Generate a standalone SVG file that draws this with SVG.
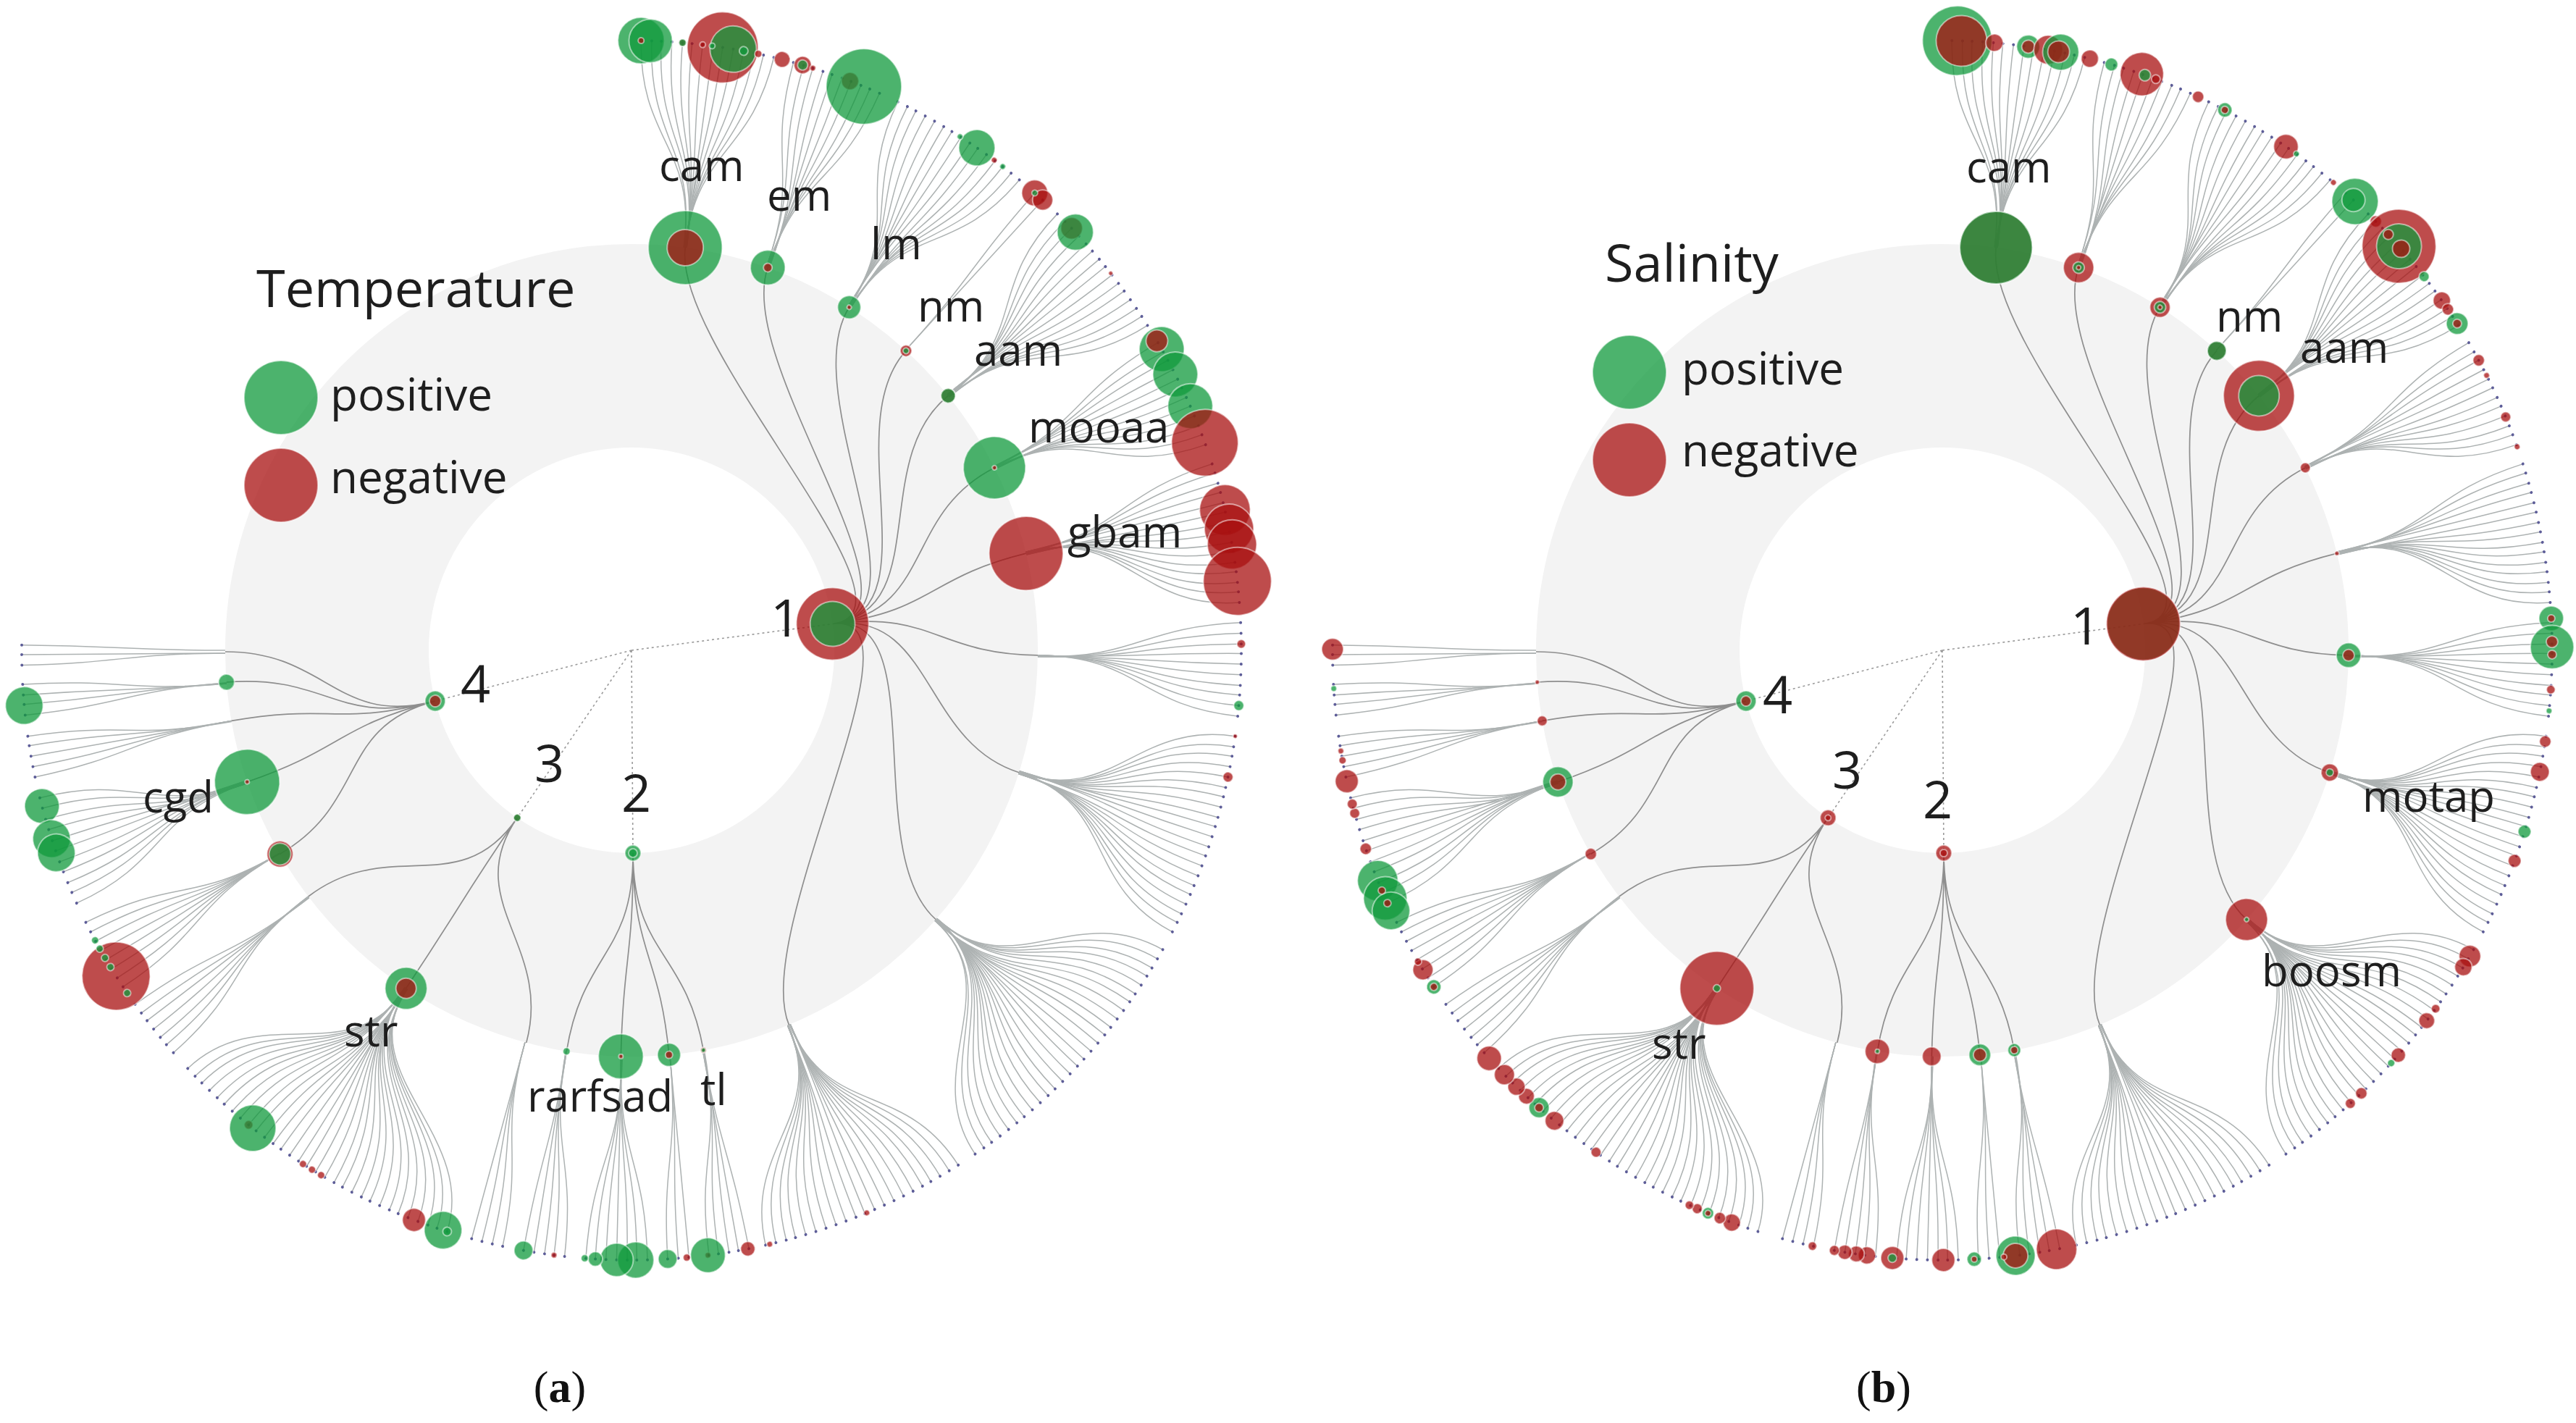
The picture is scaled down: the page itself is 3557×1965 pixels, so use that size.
<svg xmlns="http://www.w3.org/2000/svg" width="3557" height="1965" viewBox="0 0 3557 1965">
<style>
.l{fill:none;stroke:#adb2b2;stroke-width:1.5}
.d{fill:#5d5d98}
.b{fill:none;stroke:#8e8e8e;stroke-width:1.7}
.z{fill:none;stroke:#9a9a9a;stroke-width:1.6;stroke-dasharray:3 4}
.g{fill:#109a3c;fill-opacity:.75;stroke:#fff;stroke-opacity:.5;stroke-width:2}
.r{fill:#a81010;fill-opacity:.75;stroke:#fff;stroke-opacity:.5;stroke-width:2}
.ring{fill:none;stroke:#f3f3f3;stroke-width:281}
.t{font-family:'Open Sans','Noto Sans','DejaVu Sans',sans-serif;fill:#1e1e1e}
.s60{font-size:60px}
.s72{font-size:72px}
.s62{font-size:62px}
.cap{font-family:'Liberation Serif','Times New Roman',serif;font-size:62px;fill:#111}
</style>
<defs>
<g id="k0"><path class="l" d="M561,0C701.5,0 701.5,0 842,0"/><circle class="d" cx="842" r="2"/></g>
<g id="k1"><path class="l" d="M561,4.9C701.5,6.1 701.5,0 842,0"/><circle class="d" cx="842" r="2"/></g>
<g id="k2"><path class="l" d="M560.9,9.8C701.4,12.2 701.5,0 842,0"/><circle class="d" cx="842" r="2"/></g>
<g id="k3"><path class="l" d="M560.8,14.7C701.3,18.4 701.5,0 842,0"/><circle class="d" cx="842" r="2"/></g>
<g id="k4"><path class="l" d="M560.7,19.6C701.1,24.5 701.5,0 842,0"/><circle class="d" cx="842" r="2"/></g>
<g id="k5"><path class="l" d="M560.5,24.5C700.8,30.6 701.5,0 842,0"/><circle class="d" cx="842" r="2"/></g>
<g id="k6"><path class="l" d="M560.2,29.4C700.5,36.7 701.5,0 842,0"/><circle class="d" cx="842" r="2"/></g>
<g id="k7"><path class="l" d="M560,34.2C700.2,42.8 701.5,0 842,0"/><circle class="d" cx="842" r="2"/></g>
<g id="k8"><path class="l" d="M559.6,39.1C699.8,48.9 701.5,0 842,0"/><circle class="d" cx="842" r="2"/></g>
<g id="k9"><path class="l" d="M559.3,44C699.3,55 701.5,0 842,0"/><circle class="d" cx="842" r="2"/></g>
<g id="k10"><path class="l" d="M558.9,48.9C698.8,61.1 701.5,0 842,0"/><circle class="d" cx="842" r="2"/></g>
<g id="k11"><path class="l" d="M558.4,53.8C698.3,67.2 701.5,0 842,0"/><circle class="d" cx="842" r="2"/></g>
<g id="k12"><path class="l" d="M557.9,58.6C697.7,73.3 701.5,0 842,0"/><circle class="d" cx="842" r="2"/></g>
<g id="k13"><path class="l" d="M557.4,63.5C697,79.4 701.5,0 842,0"/><circle class="d" cx="842" r="2"/></g>
<g id="k14"><path class="l" d="M556.8,68.4C696.3,85.5 701.5,0 842,0"/><circle class="d" cx="842" r="2"/></g>
<g id="k15"><path class="l" d="M556.2,73.2C695.5,91.6 701.5,0 842,0"/><circle class="d" cx="842" r="2"/></g>
<g id="k16"><path class="l" d="M555.5,78.1C694.7,97.6 701.5,0 842,0"/><circle class="d" cx="842" r="2"/></g>
<g id="k17"><path class="l" d="M554.8,82.9C693.8,103.7 701.5,0 842,0"/><circle class="d" cx="842" r="2"/></g>
<g id="k18"><path class="l" d="M554.1,87.8C692.9,109.7 701.5,0 842,0"/><circle class="d" cx="842" r="2"/></g>
<g id="k19"><path class="l" d="M553.3,92.6C691.9,115.8 701.5,0 842,0"/><circle class="d" cx="842" r="2"/></g>
<g id="k20"><path class="l" d="M552.5,97.4C690.8,121.8 701.5,0 842,0"/><circle class="d" cx="842" r="2"/></g>
<g id="k21"><path class="l" d="M551.6,102.2C689.8,127.8 701.5,0 842,0"/><circle class="d" cx="842" r="2"/></g>
<g id="k22"><path class="l" d="M550.7,107C688.6,133.9 701.5,0 842,0"/><circle class="d" cx="842" r="2"/></g>
<g id="k23"><path class="l" d="M549.7,111.8C687.4,139.9 701.5,0 842,0"/><circle class="d" cx="842" r="2"/></g>
<g id="k24"><path class="l" d="M548.7,116.6C686.2,145.9 701.5,0 842,0"/><circle class="d" cx="842" r="2"/></g>
<g id="k25"><path class="l" d="M547.7,121.4C684.9,151.8 701.5,0 842,0"/><circle class="d" cx="842" r="2"/></g>
<g id="k26"><path class="l" d="M546.6,126.2C683.5,157.8 701.5,0 842,0"/><circle class="d" cx="842" r="2"/></g>
<g id="k27"><path class="l" d="M545.5,131C682.1,163.8 701.5,0 842,0"/><circle class="d" cx="842" r="2"/></g>
<g id="k28"><path class="l" d="M544.3,135.7C680.7,169.7 701.5,0 842,0"/><circle class="d" cx="842" r="2"/></g>
<g id="k29"><path class="l" d="M543.1,140.5C679.2,175.6 701.5,0 842,0"/><circle class="d" cx="842" r="2"/></g>
<g id="k30"><path class="l" d="M541.9,145.2C677.6,181.6 701.5,0 842,0"/><circle class="d" cx="842" r="2"/></g>
<g id="k31"><path class="l" d="M540.6,149.9C676,187.5 701.5,0 842,0"/><circle class="d" cx="842" r="2"/></g>
<g id="k32"><path class="l" d="M539.3,154.6C674.3,193.4 701.5,0 842,0"/><circle class="d" cx="842" r="2"/></g>
<use id="m1" href="#k1" transform="scale(1,-1)"/>
<use id="m2" href="#k2" transform="scale(1,-1)"/>
<use id="m3" href="#k3" transform="scale(1,-1)"/>
<use id="m4" href="#k4" transform="scale(1,-1)"/>
<use id="m5" href="#k5" transform="scale(1,-1)"/>
<use id="m6" href="#k6" transform="scale(1,-1)"/>
<use id="m7" href="#k7" transform="scale(1,-1)"/>
<use id="m8" href="#k8" transform="scale(1,-1)"/>
<use id="m9" href="#k9" transform="scale(1,-1)"/>
<use id="m10" href="#k10" transform="scale(1,-1)"/>
<use id="m11" href="#k11" transform="scale(1,-1)"/>
<use id="m12" href="#k12" transform="scale(1,-1)"/>
<use id="m13" href="#k13" transform="scale(1,-1)"/>
<use id="m14" href="#k14" transform="scale(1,-1)"/>
<use id="m15" href="#k15" transform="scale(1,-1)"/>
<use id="m16" href="#k16" transform="scale(1,-1)"/>
<use id="m17" href="#k17" transform="scale(1,-1)"/>
<use id="m18" href="#k18" transform="scale(1,-1)"/>
<use id="m19" href="#k19" transform="scale(1,-1)"/>
<use id="m20" href="#k20" transform="scale(1,-1)"/>
<use id="m21" href="#k21" transform="scale(1,-1)"/>
<use id="m22" href="#k22" transform="scale(1,-1)"/>
<use id="m23" href="#k23" transform="scale(1,-1)"/>
<use id="m24" href="#k24" transform="scale(1,-1)"/>
<use id="m25" href="#k25" transform="scale(1,-1)"/>
<use id="m26" href="#k26" transform="scale(1,-1)"/>
<use id="m28" href="#k28" transform="scale(1,-1)"/>
<g id="tree">
<path class="z" d="M0,0L277.6,-36.5M0,0L2,280M0,0L-157.8,231.3M0,0L-271.1,70.1"/>
<path class="b" d="M277.6,-36.5C416.9,-54.9 55.6,-416.8 74.2,-556.1M277.6,-36.5C416.9,-54.9 141.1,-396.1 188.2,-528.5M277.6,-36.5C416.9,-54.9 225.3,-355 300.6,-473.7M277.6,-36.5C416.9,-54.9 284.1,-310 379,-413.6M277.6,-36.5C416.9,-54.9 327.7,-263.5 437.3,-351.5M277.6,-36.5C416.9,-54.9 375.7,-188.9 501.2,-252.1M277.6,-36.5C416.9,-54.9 408.4,-100.3 544.8,-133.8M277.6,-36.5C416.9,-54.9 420.5,5.1 561,6.9M277.6,-36.5C416.9,-54.9 401,126.4 535,168.7M277.6,-36.5C416.9,-54.9 314.9,278.6 420.2,371.7M277.6,-36.5C416.9,-54.9 163,387.6 217.4,517.2"/>
<path class="b" d="M2,280C2.9,420.5 74.5,413.9 99.3,552.1M2,280C2.9,420.5 38.8,418.7 51.8,558.6M2,280C2.9,420.5 -11,420.4 -14.7,560.8M2,280C2.9,420.5 -67.2,415.1 -89.7,553.8"/>
<path class="b" d="M-157.8,231.3C-237,347.4 -108.8,406.2 -145.2,541.9M-157.8,231.3C-237,347.4 -233.3,349.8 -311.3,466.7M-157.8,231.3C-237,347.4 -334.5,254.8 -446.3,340"/>
<path class="b" d="M-271.1,70.1C-407.1,105.3 -363.8,210.9 -485.4,281.3M-271.1,70.1C-407.1,105.3 -397.8,136.2 -530.8,181.7M-271.1,70.1C-407.1,105.3 -414.1,73 -552.5,97.4M-271.1,70.1C-407.1,105.3 -419.2,33 -559.3,44M-271.1,70.1C-407.1,105.3 -420.5,1.5 -561,2"/>
<use href="#k13" transform="rotate(-89.1)"/><use href="#k11" transform="rotate(-88.1)"/><use href="#k10" transform="rotate(-87.2)"/><use href="#k8" transform="rotate(-86.2)"/><use href="#k6" transform="rotate(-85.2)"/><use href="#k4" transform="rotate(-84.3)"/><use href="#k2" transform="rotate(-83.3)"/><use href="#k0" transform="rotate(-82.3)"/><use href="#m2" transform="rotate(-81.4)"/><use href="#m4" transform="rotate(-80.4)"/><use href="#m6" transform="rotate(-79.4)"/><use href="#m8" transform="rotate(-78.4)"/><use href="#m10" transform="rotate(-77.5)"/><use href="#m12" transform="rotate(-76.5)"/>
<use href="#k8" transform="rotate(-74.6)"/><use href="#k6" transform="rotate(-73.6)"/><use href="#k5" transform="rotate(-72.7)"/><use href="#k3" transform="rotate(-71.7)"/><use href="#k1" transform="rotate(-70.8)"/><use href="#m1" transform="rotate(-69.8)"/><use href="#m3" transform="rotate(-68.9)"/><use href="#m5" transform="rotate(-67.9)"/><use href="#m7" transform="rotate(-67)"/><use href="#m9" transform="rotate(-66)"/>
<use href="#k13" transform="rotate(-64.1)"/><use href="#k11" transform="rotate(-63.1)"/><use href="#k9" transform="rotate(-62.2)"/><use href="#k7" transform="rotate(-61.2)"/><use href="#k5" transform="rotate(-60.2)"/><use href="#k3" transform="rotate(-59.2)"/><use href="#k1" transform="rotate(-58.3)"/><use href="#m1" transform="rotate(-57.3)"/><use href="#m3" transform="rotate(-56.3)"/><use href="#m4" transform="rotate(-55.4)"/><use href="#m6" transform="rotate(-54.4)"/><use href="#m8" transform="rotate(-53.4)"/><use href="#m10" transform="rotate(-52.5)"/><use href="#m12" transform="rotate(-51.5)"/><use href="#m14" transform="rotate(-50.5)"/>
<use href="#k2" transform="rotate(-48.6)"/><use href="#k0" transform="rotate(-47.6)"/>
<use href="#k14" transform="rotate(-45.7)"/><use href="#k12" transform="rotate(-44.7)"/><use href="#k10" transform="rotate(-43.8)"/><use href="#k8" transform="rotate(-42.8)"/><use href="#k6" transform="rotate(-41.8)"/><use href="#k4" transform="rotate(-40.9)"/><use href="#k2" transform="rotate(-39.9)"/><use href="#k0" transform="rotate(-39)"/><use href="#m2" transform="rotate(-38)"/><use href="#m4" transform="rotate(-37)"/><use href="#m5" transform="rotate(-36.1)"/><use href="#m7" transform="rotate(-35.1)"/><use href="#m9" transform="rotate(-34.1)"/><use href="#m11" transform="rotate(-33.2)"/><use href="#m13" transform="rotate(-32.2)"/>
<use href="#k7" transform="rotate(-30.3)"/><use href="#k5" transform="rotate(-29.3)"/><use href="#k3" transform="rotate(-28.4)"/><use href="#k1" transform="rotate(-27.4)"/><use href="#m1" transform="rotate(-26.4)"/><use href="#m2" transform="rotate(-25.5)"/><use href="#m4" transform="rotate(-24.5)"/><use href="#m6" transform="rotate(-23.6)"/><use href="#m8" transform="rotate(-22.6)"/><use href="#m10" transform="rotate(-21.6)"/><use href="#m12" transform="rotate(-20.7)"/><use href="#m14" transform="rotate(-19.7)"/>
<use href="#k8" transform="rotate(-17.8)"/><use href="#k6" transform="rotate(-16.9)"/><use href="#k4" transform="rotate(-15.9)"/><use href="#k2" transform="rotate(-15)"/><use href="#k0" transform="rotate(-14)"/><use href="#m1" transform="rotate(-13.1)"/><use href="#m3" transform="rotate(-12.1)"/><use href="#m5" transform="rotate(-11.2)"/><use href="#m7" transform="rotate(-10.2)"/><use href="#m9" transform="rotate(-9.3)"/><use href="#m11" transform="rotate(-8.3)"/><use href="#m13" transform="rotate(-7.4)"/><use href="#m15" transform="rotate(-6.4)"/><use href="#m17" transform="rotate(-5.5)"/><use href="#m19" transform="rotate(-4.5)"/>
<use href="#k7" transform="rotate(-2.6)"/><use href="#k5" transform="rotate(-1.6)"/><use href="#k3" transform="rotate(-0.6)"/><use href="#k1" transform="rotate(0.3)"/><use href="#m1" transform="rotate(1.3)"/><use href="#m3" transform="rotate(2.3)"/><use href="#m5" transform="rotate(3.3)"/><use href="#m7" transform="rotate(4.2)"/><use href="#m9" transform="rotate(5.2)"/><use href="#m11" transform="rotate(6.2)"/>
<use href="#k19" transform="rotate(8.1)"/><use href="#k17" transform="rotate(9.1)"/><use href="#k15" transform="rotate(10)"/><use href="#k13" transform="rotate(11)"/><use href="#k11" transform="rotate(12)"/><use href="#k9" transform="rotate(13)"/><use href="#k7" transform="rotate(13.9)"/><use href="#k5" transform="rotate(14.9)"/><use href="#k3" transform="rotate(15.9)"/><use href="#k1" transform="rotate(16.8)"/><use href="#m1" transform="rotate(17.8)"/><use href="#m3" transform="rotate(18.8)"/><use href="#m4" transform="rotate(19.7)"/><use href="#m6" transform="rotate(20.7)"/><use href="#m8" transform="rotate(21.7)"/><use href="#m10" transform="rotate(22.7)"/><use href="#m12" transform="rotate(23.6)"/><use href="#m14" transform="rotate(24.6)"/><use href="#m16" transform="rotate(25.6)"/><use href="#m18" transform="rotate(26.5)"/><use href="#m20" transform="rotate(27.5)"/>
<use href="#k24" transform="rotate(29.4)"/><use href="#k22" transform="rotate(30.4)"/><use href="#k20" transform="rotate(31.4)"/><use href="#k18" transform="rotate(32.3)"/><use href="#k16" transform="rotate(33.3)"/><use href="#k14" transform="rotate(34.3)"/><use href="#k13" transform="rotate(35.2)"/><use href="#k11" transform="rotate(36.2)"/><use href="#k9" transform="rotate(37.2)"/><use href="#k7" transform="rotate(38.2)"/><use href="#k5" transform="rotate(39.1)"/><use href="#k3" transform="rotate(40.1)"/><use href="#k1" transform="rotate(41.1)"/><use href="#m1" transform="rotate(42.1)"/><use href="#m3" transform="rotate(43)"/><use href="#m5" transform="rotate(44)"/><use href="#m7" transform="rotate(45)"/><use href="#m9" transform="rotate(46)"/><use href="#m11" transform="rotate(46.9)"/><use href="#m13" transform="rotate(47.9)"/><use href="#m15" transform="rotate(48.9)"/><use href="#m17" transform="rotate(49.9)"/><use href="#m19" transform="rotate(50.8)"/><use href="#m21" transform="rotate(51.8)"/><use href="#m23" transform="rotate(52.8)"/><use href="#m25" transform="rotate(53.8)"/><use href="#m26" transform="rotate(54.7)"/><use href="#m28" transform="rotate(55.7)"/>
<use href="#k19" transform="rotate(57.6)"/><use href="#k17" transform="rotate(58.6)"/><use href="#k15" transform="rotate(59.6)"/><use href="#k13" transform="rotate(60.6)"/><use href="#k11" transform="rotate(61.5)"/><use href="#k9" transform="rotate(62.5)"/><use href="#k7" transform="rotate(63.5)"/><use href="#k5" transform="rotate(64.5)"/><use href="#k3" transform="rotate(65.5)"/><use href="#k1" transform="rotate(66.5)"/><use href="#m1" transform="rotate(67.5)"/><use href="#m2" transform="rotate(68.4)"/><use href="#m4" transform="rotate(69.4)"/><use href="#m6" transform="rotate(70.4)"/><use href="#m8" transform="rotate(71.4)"/><use href="#m10" transform="rotate(72.4)"/><use href="#m12" transform="rotate(73.4)"/><use href="#m14" transform="rotate(74.4)"/><use href="#m16" transform="rotate(75.3)"/><use href="#m18" transform="rotate(76.3)"/><use href="#m20" transform="rotate(77.3)"/>
<use href="#k2" transform="rotate(78.9)"/><use href="#k0" transform="rotate(79.9)"/><use href="#m2" transform="rotate(80.8)"/><use href="#m4" transform="rotate(81.8)"/><use href="#m6" transform="rotate(82.7)"/>
<use href="#k0" transform="rotate(84.6)"/><use href="#m2" transform="rotate(85.6)"/><use href="#m4" transform="rotate(86.6)"/>
<use href="#k6" transform="rotate(88.5)"/><use href="#k4" transform="rotate(89.5)"/><use href="#k2" transform="rotate(90.4)"/><use href="#k0" transform="rotate(91.4)"/><use href="#m2" transform="rotate(92.4)"/><use href="#m4" transform="rotate(93.4)"/><use href="#m6" transform="rotate(94.3)"/>
<use href="#k6" transform="rotate(96.3)"/><use href="#k4" transform="rotate(97.3)"/><use href="#k2" transform="rotate(98.2)"/><use href="#k0" transform="rotate(99.2)"/><use href="#m2" transform="rotate(100.2)"/>
<use href="#k6" transform="rotate(102.2)"/><use href="#k4" transform="rotate(103.2)"/><use href="#k2" transform="rotate(104.2)"/><use href="#k0" transform="rotate(105.2)"/>
<use href="#k32" transform="rotate(107.6)"/><use href="#k30" transform="rotate(108.6)"/><use href="#k28" transform="rotate(109.5)"/><use href="#k26" transform="rotate(110.5)"/><use href="#k24" transform="rotate(111.5)"/><use href="#k22" transform="rotate(112.5)"/><use href="#k21" transform="rotate(113.4)"/><use href="#k19" transform="rotate(114.4)"/><use href="#k17" transform="rotate(115.4)"/><use href="#k15" transform="rotate(116.3)"/><use href="#k13" transform="rotate(117.3)"/><use href="#k11" transform="rotate(118.3)"/><use href="#k9" transform="rotate(119.2)"/><use href="#k7" transform="rotate(120.2)"/><use href="#k5" transform="rotate(121.2)"/><use href="#k3" transform="rotate(122.2)"/><use href="#k1" transform="rotate(123.1)"/><use href="#m1" transform="rotate(124.1)"/><use href="#m3" transform="rotate(125.1)"/><use href="#m5" transform="rotate(126)"/><use href="#m7" transform="rotate(127)"/><use href="#m9" transform="rotate(128)"/><use href="#m10" transform="rotate(128.9)"/><use href="#m12" transform="rotate(129.9)"/><use href="#m14" transform="rotate(130.9)"/><use href="#m16" transform="rotate(131.9)"/><use href="#m18" transform="rotate(132.8)"/><use href="#m20" transform="rotate(133.8)"/><use href="#m22" transform="rotate(134.8)"/><use href="#m24" transform="rotate(135.7)"/><use href="#m26" transform="rotate(136.7)"/>
<use href="#k8" transform="rotate(138.7)"/><use href="#k6" transform="rotate(139.7)"/><use href="#k4" transform="rotate(140.6)"/><use href="#k2" transform="rotate(141.6)"/><use href="#k0" transform="rotate(142.6)"/><use href="#m2" transform="rotate(143.5)"/><use href="#m4" transform="rotate(144.5)"/>
<use href="#k7" transform="rotate(146.5)"/><use href="#k5" transform="rotate(147.5)"/><use href="#k3" transform="rotate(148.5)"/><use href="#k1" transform="rotate(149.5)"/><use href="#m1" transform="rotate(150.5)"/><use href="#m3" transform="rotate(151.5)"/><use href="#m5" transform="rotate(152.5)"/><use href="#m7" transform="rotate(153.5)"/>
<use href="#k11" transform="rotate(155.5)"/><use href="#k9" transform="rotate(156.6)"/><use href="#k7" transform="rotate(157.6)"/><use href="#k5" transform="rotate(158.7)"/><use href="#k3" transform="rotate(159.7)"/><use href="#k1" transform="rotate(160.8)"/><use href="#m1" transform="rotate(161.8)"/><use href="#m4" transform="rotate(162.9)"/><use href="#m6" transform="rotate(163.9)"/><use href="#m8" transform="rotate(165)"/><use href="#m10" transform="rotate(166)"/>
<use href="#k4" transform="rotate(168)"/><use href="#k2" transform="rotate(169)"/><use href="#k0" transform="rotate(170)"/><use href="#m2" transform="rotate(171)"/><use href="#m4" transform="rotate(171.9)"/>
<use href="#k3" transform="rotate(173.9)"/><use href="#k1" transform="rotate(174.9)"/><use href="#m1" transform="rotate(175.8)"/><use href="#m3" transform="rotate(176.8)"/>
<use href="#k2" transform="rotate(178.6)"/><use href="#k0" transform="rotate(179.6)"/><use href="#m1" transform="rotate(180.5)"/>
</g>
</defs>
<rect width="3557" height="1965" fill="#fff"/>
<g id="rings">
<circle class="ring" cx="872" cy="898" r="420.5"/>
<circle class="ring" cx="2682" cy="898" r="420.5"/>
</g>
<g id="connectors">
<use href="#tree" transform="translate(872,898)"/>
<use href="#tree" transform="translate(2682,898)"/>
</g>
<g id="panel-a" transform="translate(872,898)">
<g id="a-n1"><circle class="r" cx="280" r="50" transform="rotate(-7.5)"/><circle class="g" cx="280" r="31" transform="rotate(-7.5)"/></g>
<g id="a-n2"><circle class="g" cx="280" r="11" transform="rotate(89.6)"/><circle class="g" cx="280" r="6" transform="rotate(89.6)"/></g>
<g id="a-n3"><circle class="r" cx="280" r="5" transform="rotate(124.3)"/><circle class="g" cx="280" r="5" transform="rotate(124.3)"/></g>
<g id="a-n4"><circle class="g" cx="280" r="14" transform="rotate(165.5)"/><circle class="r" cx="280" r="8" transform="rotate(165.5)"/></g>
<g id="a-cam"><circle class="g" cx="561" r="51" transform="rotate(-82.4)"/><circle class="r" cx="561" r="25" transform="rotate(-82.4)"/></g>
<g id="a-em"><circle class="g" cx="561" r="24" transform="rotate(-70.4)"/><circle class="r" cx="561" r="6" transform="rotate(-70.4)"/></g>
<g id="a-lm"><circle class="g" cx="561" r="16" transform="rotate(-57.6)"/><circle class="r" cx="561" r="3" transform="rotate(-57.6)"/></g>
<g id="a-nm"><circle class="r" cx="561" r="8" transform="rotate(-47.5)"/><circle class="g" cx="561" r="4" transform="rotate(-47.5)"/></g>
<g id="a-aam"><circle class="r" cx="561" r="10" transform="rotate(-38.8)"/><circle class="g" cx="561" r="10" transform="rotate(-38.8)"/></g>
<g id="a-mooaa"><circle class="g" cx="561" r="43" transform="rotate(-26.7)"/><circle class="r" cx="561" r="3" transform="rotate(-26.7)"/></g>
<g id="a-gbam"><circle class="r" cx="561" r="51" transform="rotate(-13.8)"/></g>
<g id="a-tl"><circle class="r" cx="561" r="4" transform="rotate(79.8)"/><circle class="g" cx="561" r="3" transform="rotate(79.8)"/></g>
<g id="a-c2"><circle class="g" cx="561" r="16" transform="rotate(84.7)"/><circle class="r" cx="561" r="5" transform="rotate(84.7)"/></g>
<g id="a-fsad"><circle class="g" cx="561" r="31" transform="rotate(91.5)"/><circle class="r" cx="561" r="3" transform="rotate(91.5)"/></g>
<g id="a-rar"><circle class="g" cx="561" r="5" transform="rotate(99.2)"/></g>
<g id="a-str"><circle class="g" cx="561" r="29" transform="rotate(123.7)"/><circle class="r" cx="561" r="14" transform="rotate(123.7)"/></g>
<g id="a-e4"><circle class="r" cx="561" r="18" transform="rotate(149.9)"/><circle class="g" cx="561" r="15" transform="rotate(149.9)"/></g>
<g id="a-cgd"><circle class="g" cx="561" r="45" transform="rotate(161.1)"/><circle class="r" cx="561" r="3" transform="rotate(161.1)"/></g>
<g id="a-b4"><circle class="g" cx="561" r="11" transform="rotate(175.5)"/></g>
<g id="a-leaves">
<circle class="g" cx="842" r="32" transform="rotate(-89.1)"/><circle class="g" cx="842" r="30" transform="rotate(-88.2)"/><circle class="r" cx="842" r="4" transform="rotate(-89.1)"/>
<circle class="r" cx="842" r="5" transform="rotate(-85.2)"/><circle class="g" cx="842" r="5" transform="rotate(-85.2)"/>
<circle class="r" cx="842" r="49" transform="rotate(-81.4)"/><circle class="g" cx="842" r="32" transform="rotate(-80.4)"/><circle class="g" cx="842" r="6" transform="rotate(-79.4)"/><circle class="r" cx="842" r="4" transform="rotate(-83.3)"/><circle class="g" cx="842" r="4" transform="rotate(-82.4)"/><circle class="r" cx="842" r="5" transform="rotate(-78)"/>
<circle class="r" cx="842" r="11" transform="rotate(-75.7)"/><circle class="r" cx="842" r="12" transform="rotate(-73.7)"/><circle class="g" cx="842" r="7" transform="rotate(-73.7)"/><circle class="r" cx="842" r="4" transform="rotate(-72.7)"/>
<circle class="r" cx="842" r="12" transform="rotate(-69)"/><circle class="g" cx="842" r="52" transform="rotate(-67.6)"/>
<circle class="g" cx="842" r="25" transform="rotate(-55.5)"/><circle class="r" cx="842" r="4" transform="rotate(-53.5)"/><circle class="g" cx="842" r="4" transform="rotate(-52.5)"/><circle class="g" cx="842" r="4" transform="rotate(-57.4)"/>
<circle class="r" cx="842" r="18" transform="rotate(-48.6)"/><circle class="r" cx="842" r="14" transform="rotate(-47.6)"/><circle class="g" cx="842" r="4" transform="rotate(-48.6)"/>
<circle class="r" cx="842" r="15" transform="rotate(-43.8)"/><circle class="g" cx="842" r="25" transform="rotate(-43.3)"/><circle class="r" cx="842" r="3" transform="rotate(-38.2)"/>
<circle class="g" cx="842" r="31" transform="rotate(-29.6)"/><circle class="r" cx="842" r="15" transform="rotate(-30.5)"/><circle class="g" cx="842" r="31" transform="rotate(-26.9)"/><circle class="g" cx="842" r="31" transform="rotate(-23.6)"/><circle class="r" cx="842" r="46" transform="rotate(-19.9)"/>
<circle class="r" cx="842" r="35" transform="rotate(-13.3)"/><circle class="r" cx="842" r="34" transform="rotate(-11.5)"/><circle class="r" cx="842" r="34" transform="rotate(-10)"/><circle class="r" cx="842" r="47" transform="rotate(-6.5)"/>
<circle class="r" cx="842" r="6" transform="rotate(-0.6)"/><circle class="g" cx="842" r="7" transform="rotate(5.2)"/>
<circle class="r" cx="842" r="3" transform="rotate(8.1)"/><circle class="r" cx="842" r="7" transform="rotate(12)"/>
<circle class="r" cx="842" r="4" transform="rotate(67.3)"/><circle class="r" cx="842" r="4" transform="rotate(76.9)"/>
<circle class="r" cx="842" r="10" transform="rotate(79)"/><circle class="r" cx="842" r="4" transform="rotate(82.8)"/><circle class="g" cx="842" r="24" transform="rotate(82.8)"/><circle class="r" cx="842" r="5" transform="rotate(84.8)"/>
<circle class="g" cx="842" r="13" transform="rotate(86.6)"/>
<circle class="g" cx="842" r="25" transform="rotate(89.6)"/><circle class="g" cx="842" r="23" transform="rotate(91.4)"/><circle class="g" cx="842" r="10" transform="rotate(93.4)"/><circle class="g" cx="842" r="5" transform="rotate(94.4)"/>
<circle class="r" cx="842" r="4" transform="rotate(97.3)"/><circle class="g" cx="842" r="13" transform="rotate(100.2)"/>
<circle class="g" cx="842" r="26" transform="rotate(108)"/><circle class="g" cx="842" r="6" transform="rotate(107.6)"/><circle class="r" cx="842" r="16" transform="rotate(110.9)"/>
<circle class="r" cx="842" r="5" transform="rotate(120.6)"/><circle class="r" cx="842" r="5" transform="rotate(121.6)"/><circle class="r" cx="842" r="5" transform="rotate(122.6)"/>
<circle class="r" cx="842" r="6" transform="rotate(128.9)"/><circle class="g" cx="842" r="32" transform="rotate(128.4)"/>
<circle class="r" cx="842" r="47" transform="rotate(147.7)"/><circle class="g" cx="842" r="5" transform="rotate(145.8)"/><circle class="g" cx="842" r="5" transform="rotate(148.7)"/><circle class="g" cx="842" r="5" transform="rotate(149.7)"/><circle class="g" cx="842" r="5" transform="rotate(150.7)"/><circle class="g" cx="842" r="5" transform="rotate(151.6)"/>
<circle class="g" cx="842" r="24" transform="rotate(165.2)"/><circle class="g" cx="842" r="26" transform="rotate(162)"/><circle class="g" cx="842" r="26" transform="rotate(160.6)"/>
<circle class="g" cx="842" r="26" transform="rotate(174.8)"/>
</g>
</g>
<g id="panel-b" transform="translate(2682,898)">
<g id="b-n1"><circle class="g" cx="280" r="50" transform="rotate(-7.5)"/><circle class="r" cx="280" r="51" transform="rotate(-7.5)"/></g>
<g id="b-n2"><circle class="r" cx="280" r="11" transform="rotate(89.6)"/><circle class="r" cx="280" r="5" transform="rotate(89.6)"/></g>
<g id="b-n3"><circle class="r" cx="280" r="11" transform="rotate(124.3)"/><circle class="r" cx="280" r="4" transform="rotate(124.3)"/></g>
<g id="b-n4"><circle class="g" cx="280" r="14" transform="rotate(165.5)"/><circle class="r" cx="280" r="7" transform="rotate(165.5)"/></g>
<g id="b-cam"><circle class="r" cx="561" r="50" transform="rotate(-82.4)"/><circle class="g" cx="561" r="50" transform="rotate(-82.4)"/></g>
<g id="b-em"><circle class="r" cx="561" r="21" transform="rotate(-70.4)"/><circle class="g" cx="561" r="8" transform="rotate(-70.4)"/><circle class="r" cx="561" r="3" transform="rotate(-70.4)"/></g>
<g id="b-lm"><circle class="r" cx="561" r="14" transform="rotate(-57.6)"/><circle class="g" cx="561" r="8" transform="rotate(-57.6)"/><circle class="r" cx="561" r="3" transform="rotate(-57.6)"/></g>
<g id="b-nm"><circle class="r" cx="561" r="13" transform="rotate(-47.5)"/><circle class="g" cx="561" r="13" transform="rotate(-47.5)"/></g>
<g id="b-aam"><circle class="r" cx="561" r="49" transform="rotate(-38.8)"/><circle class="g" cx="561" r="28" transform="rotate(-38.8)"/></g>
<g id="b-mooaa"><circle class="r" cx="561" r="7" transform="rotate(-26.7)"/></g>
<g id="b-gbam"><circle class="r" cx="561" r="3" transform="rotate(-13.8)"/></g>
<g id="b-r1"><circle class="g" cx="561" r="17" transform="rotate(0.7)"/><circle class="r" cx="561" r="8" transform="rotate(0.7)"/></g>
<g id="b-motap"><circle class="r" cx="561" r="12" transform="rotate(17.5)"/><circle class="g" cx="561" r="5" transform="rotate(17.5)"/></g>
<g id="b-boosm"><circle class="r" cx="561" r="29" transform="rotate(41.5)"/><circle class="g" cx="561" r="3" transform="rotate(41.5)"/></g>
<g id="b-tl"><circle class="g" cx="561" r="9" transform="rotate(79.8)"/><circle class="r" cx="561" r="5" transform="rotate(79.8)"/></g>
<g id="b-c2"><circle class="g" cx="561" r="15" transform="rotate(84.7)"/><circle class="r" cx="561" r="9" transform="rotate(84.7)"/></g>
<g id="b-fsad"><circle class="r" cx="561" r="13" transform="rotate(91.5)"/></g>
<g id="b-rar"><circle class="r" cx="561" r="17" transform="rotate(99.2)"/><circle class="g" cx="561" r="3" transform="rotate(99.2)"/></g>
<g id="b-str"><circle class="r" cx="561" r="51" transform="rotate(123.7)"/><circle class="g" cx="561" r="5" transform="rotate(123.7)"/></g>
<g id="b-e4"><circle class="r" cx="561" r="8" transform="rotate(149.9)"/></g>
<g id="b-cgd"><circle class="g" cx="561" r="21" transform="rotate(161.1)"/><circle class="r" cx="561" r="11" transform="rotate(161.1)"/></g>
<g id="b-c4"><circle class="r" cx="561" r="7" transform="rotate(170)"/></g>
<g id="b-b4"><circle class="r" cx="561" r="3" transform="rotate(175.5)"/></g>
<g id="b-leaves">
<circle class="g" cx="842" r="48" transform="rotate(-88.6)"/><circle class="r" cx="842" r="35" transform="rotate(-88.2)"/><circle class="r" cx="842" r="12" transform="rotate(-85.1)"/>
<circle class="g" cx="842" r="16" transform="rotate(-81.9)"/><circle class="r" cx="842" r="9" transform="rotate(-81.9)"/><circle class="r" cx="842" r="20" transform="rotate(-80)"/><circle class="g" cx="842" r="25" transform="rotate(-78.8)"/><circle class="r" cx="842" r="15" transform="rotate(-79)"/><circle class="r" cx="842" r="12" transform="rotate(-76)"/><circle class="g" cx="842" r="9" transform="rotate(-73.9)"/>
<circle class="r" cx="842" r="30" transform="rotate(-70.9)"/><circle class="g" cx="842" r="8" transform="rotate(-70.6)"/><circle class="r" cx="842" r="6" transform="rotate(-69.5)"/><circle class="r" cx="842" r="8" transform="rotate(-65.2)"/><circle class="g" cx="842" r="10" transform="rotate(-62.4)"/><circle class="r" cx="842" r="5" transform="rotate(-62.4)"/>
<circle class="r" cx="842" r="17" transform="rotate(-55.7)"/><circle class="g" cx="842" r="4" transform="rotate(-54.5)"/><circle class="r" cx="842" r="4" transform="rotate(-50.1)"/>
<circle class="g" cx="842" r="32" transform="rotate(-47.4)"/><circle class="g" cx="842" r="16" transform="rotate(-47.6)"/><circle class="r" cx="842" r="8" transform="rotate(-44.7)"/><circle class="r" cx="842" r="51" transform="rotate(-41.5)"/><circle class="g" cx="842" r="31" transform="rotate(-41.5)"/><circle class="r" cx="842" r="12" transform="rotate(-41.2)"/><circle class="r" cx="842" r="7" transform="rotate(-43)"/><circle class="g" cx="842" r="7" transform="rotate(-37.8)"/><circle class="r" cx="842" r="12" transform="rotate(-35)"/><circle class="r" cx="842" r="8" transform="rotate(-34)"/><circle class="g" cx="842" r="15" transform="rotate(-32.4)"/><circle class="r" cx="842" r="6" transform="rotate(-32.4)"/>
<circle class="r" cx="842" r="8" transform="rotate(-28.4)"/><circle class="r" cx="842" r="4" transform="rotate(-26.8)"/><circle class="r" cx="842" r="7" transform="rotate(-22.5)"/><circle class="r" cx="842" r="4" transform="rotate(-19.5)"/>
<circle class="g" cx="842" r="17" transform="rotate(-3)"/><circle class="r" cx="842" r="5" transform="rotate(-3)"/><circle class="g" cx="842" r="30" transform="rotate(-0.3)"/><circle class="r" cx="842" r="8" transform="rotate(-0.8)"/><circle class="r" cx="842" r="6" transform="rotate(0.4)"/>
<circle class="r" cx="842" r="6" transform="rotate(3.7)"/><circle class="g" cx="842" r="4" transform="rotate(5.7)"/><circle class="r" cx="842" r="8" transform="rotate(8.6)"/><circle class="r" cx="842" r="13" transform="rotate(11.5)"/><circle class="g" cx="842" r="9" transform="rotate(17.3)"/><circle class="r" cx="842" r="9" transform="rotate(20.2)"/>
<circle class="r" cx="842" r="15" transform="rotate(30.1)"/><circle class="r" cx="842" r="12" transform="rotate(31.3)"/><circle class="r" cx="842" r="6" transform="rotate(36)"/><circle class="r" cx="842" r="11" transform="rotate(37.4)"/><circle class="r" cx="842" r="10" transform="rotate(41.6)"/><circle class="g" cx="842" r="5" transform="rotate(42.6)"/><circle class="r" cx="842" r="8" transform="rotate(46.6)"/><circle class="r" cx="842" r="7" transform="rotate(48)"/>
<circle class="r" cx="842" r="28" transform="rotate(79.2)"/><circle class="g" cx="842" r="27" transform="rotate(83.1)"/><circle class="r" cx="842" r="17" transform="rotate(83.1)"/><circle class="r" cx="842" r="4" transform="rotate(84.2)"/><circle class="g" cx="842" r="10" transform="rotate(87)"/><circle class="r" cx="842" r="4" transform="rotate(87)"/>
<circle class="r" cx="842" r="16" transform="rotate(89.9)"/><circle class="r" cx="842" r="16" transform="rotate(94.7)"/><circle class="g" cx="842" r="6" transform="rotate(94.7)"/><circle class="r" cx="842" r="12" transform="rotate(97.1)"/><circle class="r" cx="842" r="11" transform="rotate(98.1)"/><circle class="r" cx="842" r="10" transform="rotate(99.2)"/><circle class="r" cx="842" r="7" transform="rotate(100.2)"/><circle class="r" cx="842" r="6" transform="rotate(102.3)"/>
<circle class="r" cx="842" r="12" transform="rotate(110.2)"/><circle class="r" cx="842" r="8" transform="rotate(111.4)"/><circle class="g" cx="842" r="8" transform="rotate(112.6)"/><circle class="r" cx="842" r="4" transform="rotate(112.6)"/><circle class="r" cx="842" r="7" transform="rotate(113.7)"/><circle class="r" cx="842" r="6" transform="rotate(114.5)"/>
<circle class="r" cx="842" r="7" transform="rotate(124.6)"/><circle class="r" cx="842" r="13" transform="rotate(129.5)"/><circle class="g" cx="842" r="14" transform="rotate(131.4)"/><circle class="r" cx="842" r="6" transform="rotate(131.4)"/><circle class="r" cx="842" r="11" transform="rotate(133)"/><circle class="r" cx="842" r="12" transform="rotate(134.3)"/><circle class="r" cx="842" r="14" transform="rotate(135.9)"/><circle class="r" cx="842" r="17" transform="rotate(138)"/>
<circle class="g" cx="842" r="10" transform="rotate(146.5)"/><circle class="r" cx="842" r="5" transform="rotate(146.5)"/><circle class="r" cx="842" r="14" transform="rotate(148.4)"/><circle class="r" cx="842" r="5" transform="rotate(149.3)"/>
<circle class="g" cx="842" r="28" transform="rotate(157.8)"/><circle class="g" cx="842" r="30" transform="rotate(156)"/><circle class="g" cx="842" r="26" transform="rotate(154.7)"/><circle class="r" cx="842" r="5" transform="rotate(155.5)"/><circle class="r" cx="842" r="5" transform="rotate(156.8)"/>
<circle class="r" cx="842" r="8" transform="rotate(161)"/><circle class="r" cx="842" r="7" transform="rotate(164.5)"/><circle class="r" cx="842" r="7" transform="rotate(165.4)"/><circle class="r" cx="842" r="16" transform="rotate(167.6)"/><circle class="r" cx="842" r="5" transform="rotate(169.6)"/><circle class="r" cx="842" r="4" transform="rotate(170.5)"/><circle class="g" cx="842" r="4" transform="rotate(176.4)"/><circle class="r" cx="842" r="15" transform="rotate(180.1)"/>
</g>
</g>
<g id="legend-a">
<text class="t s72" x="354" y="424">Temperature</text>
<circle class="g" cx="388" cy="549" r="51"/>
<circle class="r" cx="388" cy="670" r="51"/>
<text class="t s62" x="456" y="567">positive</text>
<text class="t s62" x="456" y="681">negative</text>
</g>
<g id="labels-a">
<text class="t s60" x="910" y="250">cam</text>
<text class="t s60" x="1059" y="291">em</text>
<text class="t s60" x="1202" y="358">lm</text>
<text class="t s60" x="1267" y="444">nm</text>
<text class="t s60" x="1345" y="505">aam</text>
<text class="t s60" x="1420" y="611">mooaa</text>
<text class="t s60" x="1474" y="756">gbam</text>
<text class="t s72" x="1064" y="879">1</text>
<text class="t s72" x="858" y="1121">2</text>
<text class="t s72" x="738" y="1080">3</text>
<text class="t s72" x="636" y="970">4</text>
<text class="t s60" x="197" y="1122">cgd</text>
<text class="t s60" x="475" y="1445">str</text>
<text class="t s60" x="728" y="1535">rarfsad</text>
<text class="t s60" x="967" y="1526">tl</text>
<text class="cap" x="773" y="1936" text-anchor="middle">(<tspan font-weight="bold">a</tspan>)</text>
</g>
<g id="legend-b">
<text class="t s72" x="2216" y="389">Salinity</text>
<circle class="g" cx="2250" cy="514" r="51"/>
<circle class="r" cx="2250" cy="635" r="51"/>
<text class="t s62" x="2322" y="531">positive</text>
<text class="t s62" x="2322" y="644">negative</text>
</g>
<g id="labels-b">
<text class="t s60" x="2715" y="252">cam</text>
<text class="t s60" x="3060" y="458">nm</text>
<text class="t s60" x="3176" y="501">aam</text>
<text class="t s72" x="2859" y="890">1</text>
<text class="t s72" x="2434" y="985">4</text>
<text class="t s72" x="2530" y="1089">3</text>
<text class="t s72" x="2655" y="1130">2</text>
<text class="t s60" x="3262" y="1121">motap</text>
<text class="t s60" x="3123" y="1362">boosm</text>
<text class="t s60" x="2281" y="1462">str</text>
<text class="cap" x="2601" y="1936" text-anchor="middle">(<tspan font-weight="bold">b</tspan>)</text>
</g>
</svg>
